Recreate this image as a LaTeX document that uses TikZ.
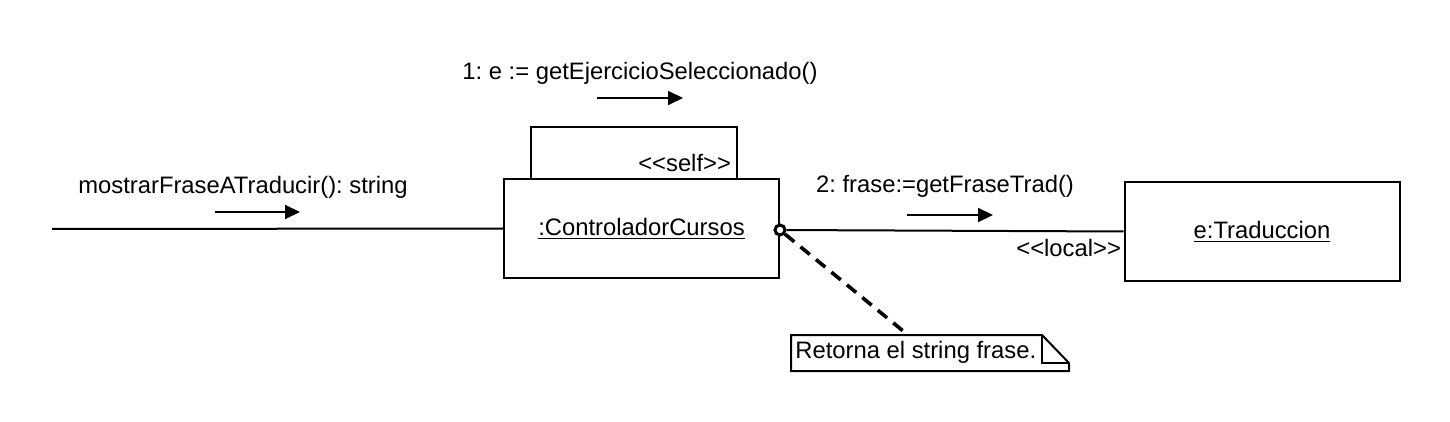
\documentclass[tikz,border=0pt]{standalone}
\usepackage{fontspec}
\setmainfont{Liberation Sans}
\usetikzlibrary{arrows.meta}
\frenchspacing

\begin{document}
\begin{tikzpicture}[
  x=0.5pt, y=-0.5pt,
  every node/.style={font=\fontsize{11.9}{14}\selectfont},
  obj/.style={draw, fill=white, line width=1pt, minimum width=137.5pt, minimum height=49.5pt},
  link/.style={line width=1pt},
  msg/.style={line width=1pt, -{Triangle[length=7.5pt, width=7pt]}},
  anchorpt/.style={draw, circle, fill=white, line width=1.5pt, inner sep=0pt, minimum size=5pt},
  notelink/.style={line width=1.8pt, dash pattern=on 6pt off 4pt}
]
\useasboundingbox (0,0) rectangle (1450,422);

% Self box (behind the controller)
\draw[line width=1pt] (531,179) -- (531,127) -- (737,127) -- (737,179);
\node[anchor=east] (selflbl) at (738,163) {<{}<self>{}>};

% Objects
\node[obj] (ctrl) at (641.5,228.5) {\underline{:ControladorCursos}};
\node[obj] (trad) at (1262,231.5) {\underline{e:Traduccion}};

% Incoming message
\coordinate (start) at (52,229);
\draw[link] (start) -- (ctrl.west);
\node (m0lbl) at (243,187) {mostrarFraseATraducir(): string};
\coordinate (m0a) at (215,212);
\coordinate (m0b) at (300,212);
\draw[msg] (m0a) -- (m0b);

% Self message
\node (m1lbl) at (640,73) {1: e := getEjercicioSeleccionado()};
\coordinate (m1a) at (597,98);
\coordinate (m1b) at (683,98);
\draw[msg] (m1a) -- (m1b);

% Link to e:Traduccion
\node[anchorpt] (pin) at (780,230) {};
\draw[link] (pin) -- (trad.west);
\node (m2lbl) at (945,186) {2: frase:=getFraseTrad()};
\coordinate (m2a) at (907,215);
\coordinate (m2b) at (993,215);
\draw[msg] (m2a) -- (m2b);
\node[anchor=east] (locallbl) at (1128,248) {<{}<local>{}>};

% Note
\draw[line width=1pt, fill=white] (791,335) -- (1042,335) -- (1069,363) -- (1069,371) -- (791,371) -- cycle;
\draw[line width=1pt] (1042,335) -- (1042,363) -- (1069,363);
\node[anchor=west, inner sep=0pt] (note) at (795,352) {Retorna el string frase.};
\coordinate (notetop) at (908,335);
\draw[notelink] (pin) -- (notetop);

\end{tikzpicture}
\end{document}
